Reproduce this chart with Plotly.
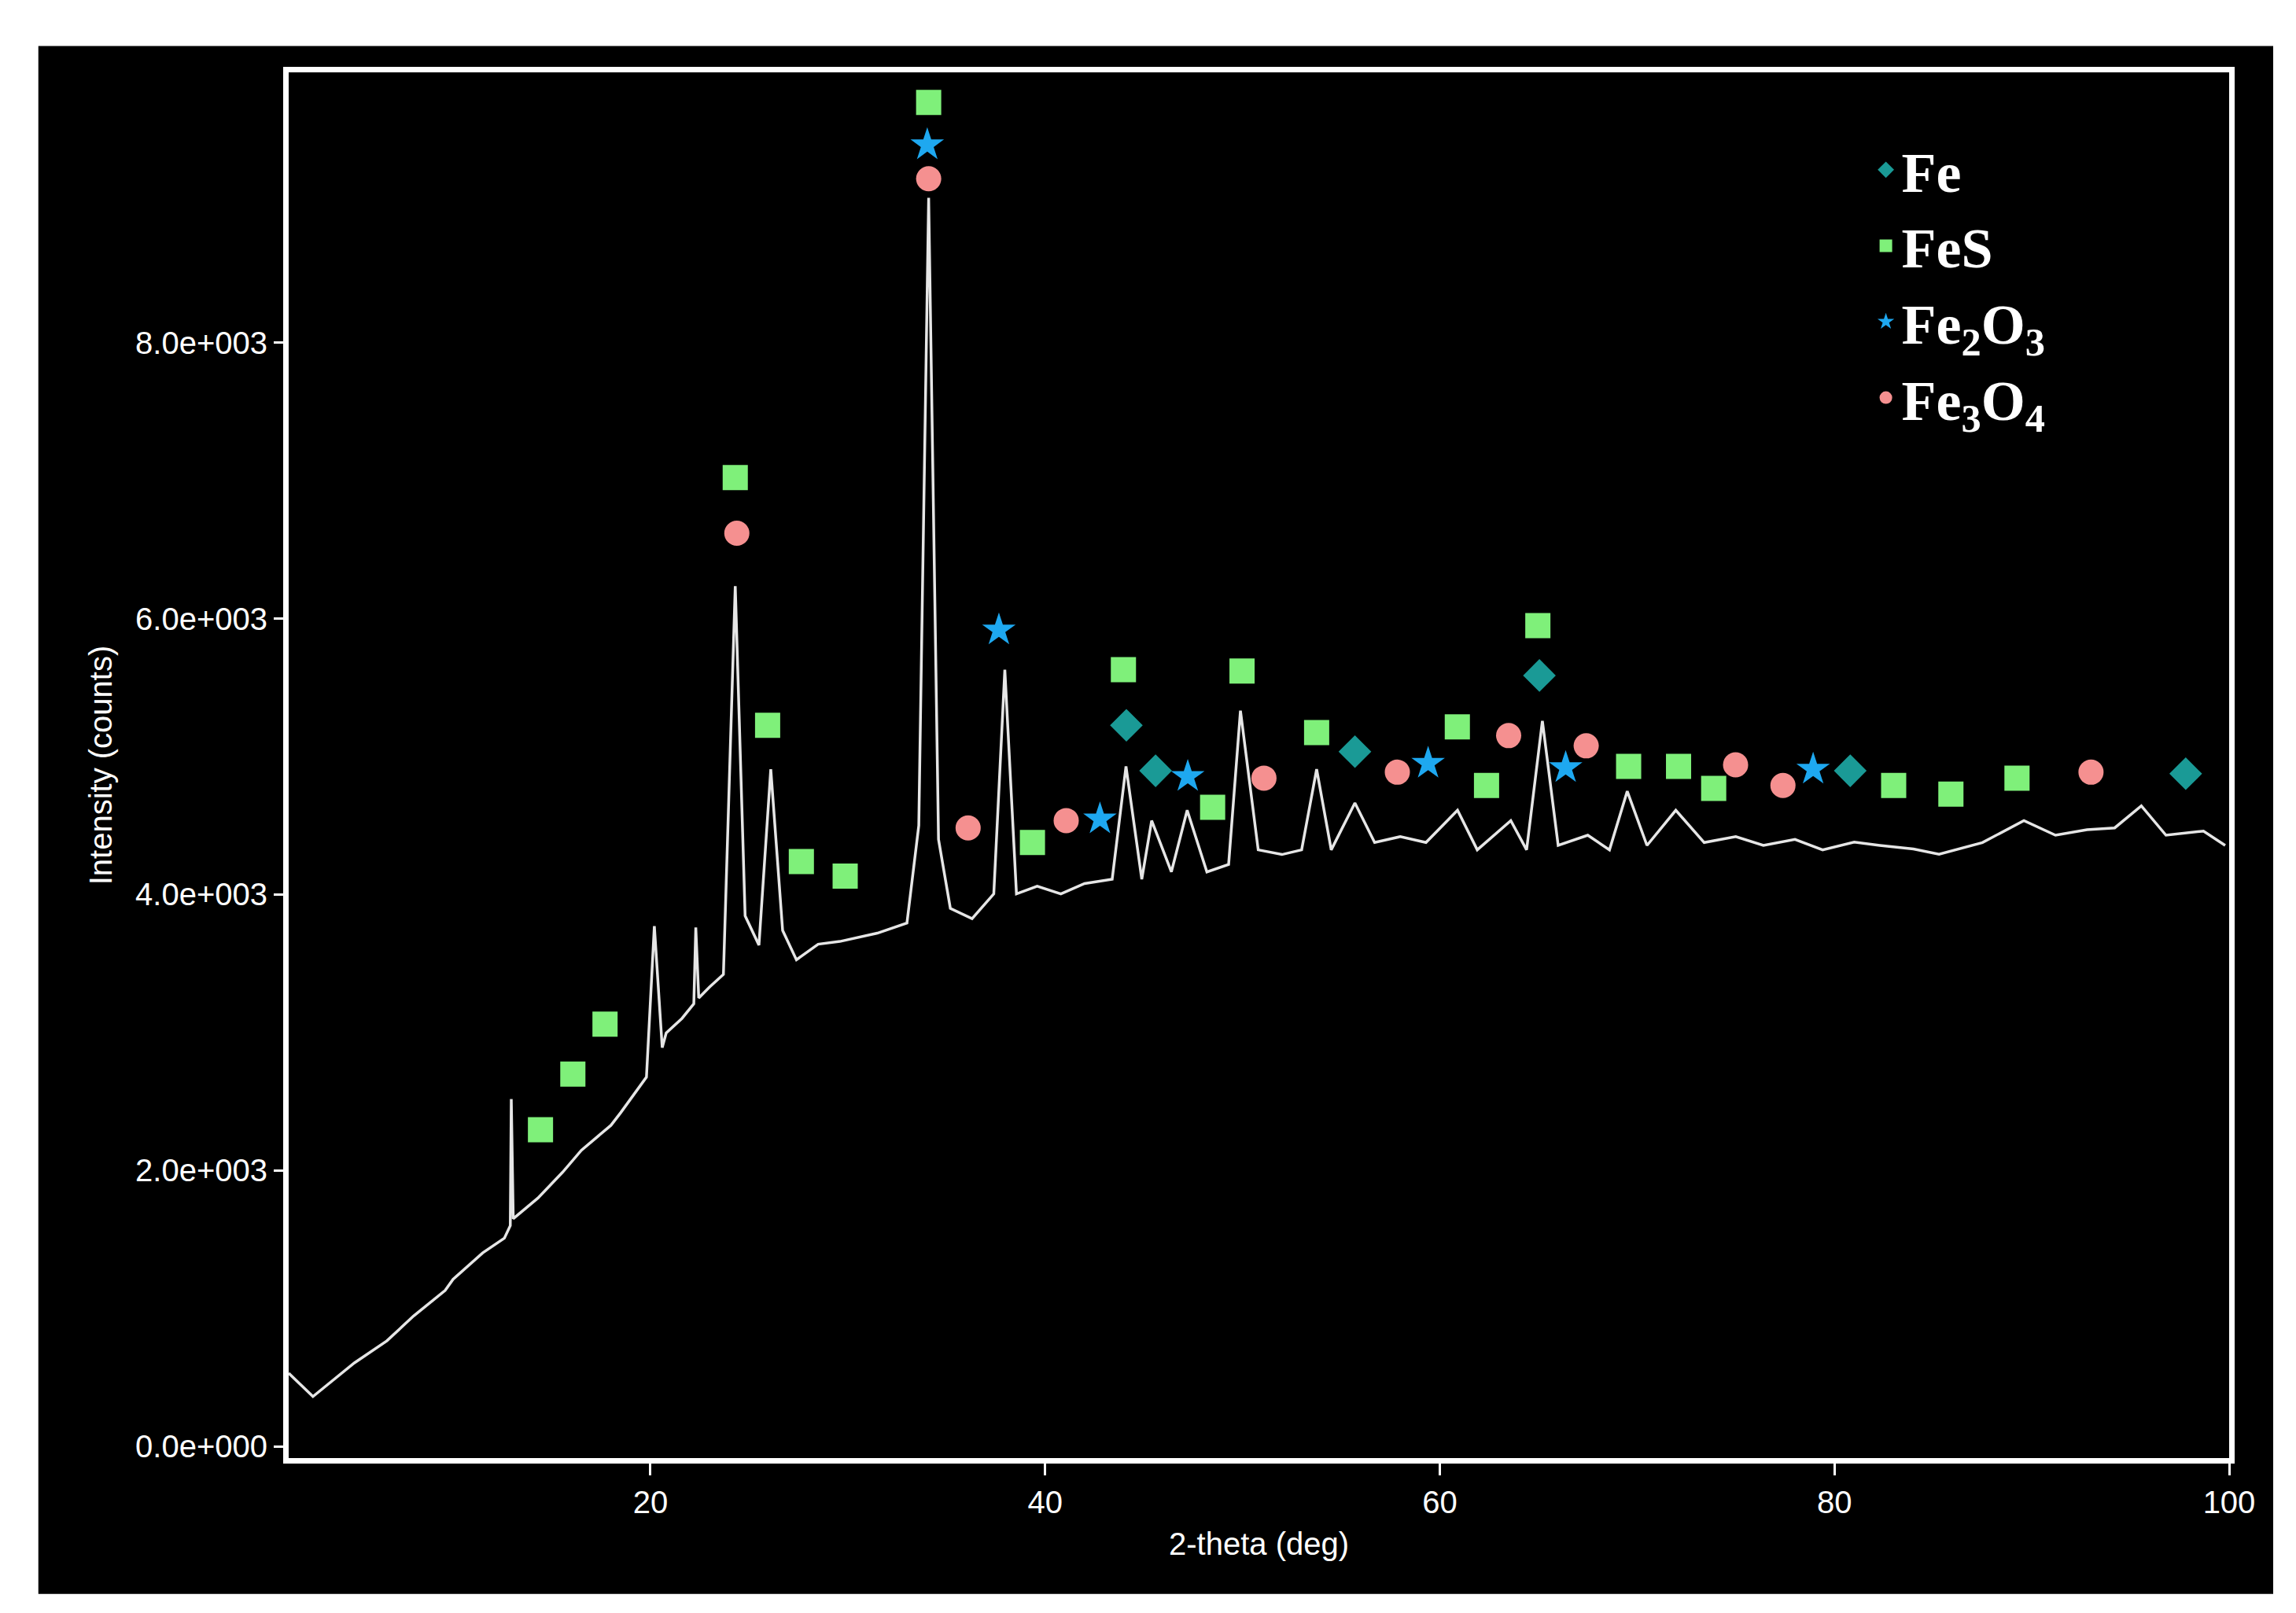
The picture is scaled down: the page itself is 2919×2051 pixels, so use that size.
import plotly.graph_objects as go

# diffraction trace (2-theta, counts)
theta = [1.67, 2.9, 5.0, 6.65, 8.0, 9.6, 10.0, 11.5, 12.6, 12.9, 12.95, 13.05, 14.3, 15.55,
         16.5, 18.0, 18.5, 19.0, 19.8, 20.2, 20.6, 20.8, 21.6, 22.2, 22.3, 22.45, 23.0,
         23.7, 24.3, 24.8, 25.5, 26.1, 26.7, 27.4, 28.5, 29.6, 30.4, 31.5, 33.0, 33.6,
         34.1, 34.6, 35.2, 36.3, 37.4, 37.96, 38.55, 39.6, 40.8, 42.0, 43.4, 44.1, 44.9,
         45.4, 46.4, 47.2, 48.2, 49.3, 49.9, 50.8, 52.0, 53.0, 53.76, 54.5, 55.7, 56.7,
         58.0, 59.3, 60.9, 61.9, 63.6, 64.4, 65.2, 66.0, 67.5, 68.6, 69.5, 70.5, 71.96,
         73.4, 75.0, 76.4, 78.0, 79.4, 81.0, 82.3, 84.0, 85.3, 87.5, 89.6, 91.2, 92.8,
         94.2, 95.55, 96.8, 98.7, 99.8]
counts = [531, 361, 605, 765, 945, 1130, 1211, 1402, 1509, 1600, 2518, 1650, 1800, 1987,
          2146, 2327, 2420, 2518, 2677, 3771, 2890, 2996, 3102, 3208, 3761, 3250, 3330,
          3421, 6236, 3846, 3633, 4908, 3740, 3527, 3640, 3660, 3686, 3720, 3793, 4500,
          9051, 4400, 3899, 3825, 4005, 5630, 4005, 4060, 4005, 4080, 4111, 4929, 4111,
          4536, 4164, 4611, 4164, 4218, 5333, 4324, 4290, 4324, 4908, 4324, 4664, 4377,
          4420, 4377, 4611, 4324, 4536, 4324, 5259, 4356, 4430, 4324, 4749, 4356, 4611,
          4377, 4420, 4356, 4400, 4324, 4380, 4356, 4330, 4292, 4377, 4536, 4430, 4470,
          4483, 4643, 4430, 4460, 4356]

fe_x = [44.12, 45.6, 55.7, 65.05, 80.8, 97.8]
fe_y = [5227, 4897, 5036, 5588, 4897, 4876]

fes_x = [14.43, 16.07, 17.7, 24.3, 25.94, 27.65, 29.87, 34.1, 39.36, 43.97, 48.49, 49.98,
         53.76, 60.89, 62.37, 64.97, 69.57, 72.1, 73.88, 83.0, 85.9, 89.25]
fes_y = [2295, 2698, 3060, 7022, 5227, 4239, 4133, 9742, 4377, 5630, 4632, 5620,
         5174, 5216, 4791, 5949, 4929, 4929, 4770, 4791, 4728, 4844]

fe2o3_x = [34.03, 37.66, 42.78, 47.23, 59.41, 66.38, 78.92]
fe2o3_y = [9434, 5917, 4547, 4855, 4951, 4919, 4908]

fe3o4_x = [24.38, 34.1, 36.1, 41.07, 51.09, 57.85, 63.49, 67.42, 74.99, 77.39, 93.0]
fe3o4_y = [6619, 9189, 4483, 4536, 4844, 4887, 5152, 5078, 4940, 4791, 4887]

y_ticks = [0, 2000, 4000, 6000, 8000]
y_labels = ["0.0e+000", "2.0e+003", "4.0e+003", "6.0e+003", "8.0e+003"]

fig = go.Figure()
fig.add_trace(go.Scatter(x=theta, y=counts, mode="lines", showlegend=False,
                         line=dict(color="#e6e6e6", width=3.5)))

markers = [
    ("<b>Fe</b>", fe_x, fe_y, "diamond", "#1a9a96"),
    ("<b>FeS</b>", fes_x, fes_y, "square", "#7ff07a"),
    ("<b>Fe<sub>2</sub>O<sub>3</sub></b>", fe2o3_x, fe2o3_y, "star", "#1ea8f0"),
    ("<b>Fe<sub>3</sub>O<sub>4</sub></b>", fe3o4_x, fe3o4_y, "circle", "#f59090"),
]
for name, xs, ys, sym, col in markers:
    fig.add_trace(go.Scatter(x=xs, y=ys, mode="markers", name=name,
                             marker=dict(symbol=sym, color=col, size=32, line=dict(width=0))))

axis_font = dict(family="Liberation Sans", size=40, color="white")
fig.update_xaxes(range=[1.67, 100], tickvals=[20, 40, 60, 80, 100], showgrid=False,
                 zeroline=False, showline=True, linecolor="white", linewidth=7, mirror=True,
                 ticks="outside", tickcolor="white", ticklen=15, tickwidth=3,
                 tickfont=axis_font, title=dict(text="2-theta (deg)", font=axis_font, standoff=20))
fig.update_yaxes(range=[-85, 9960], tickvals=y_ticks, ticktext=y_labels, showgrid=False,
                 zeroline=False, showline=True, linecolor="white", linewidth=7, mirror=True,
                 ticks="outside", tickcolor="white", ticklen=12, tickwidth=3,
                 tickfont=axis_font, title=dict(text="Intensity (counts)", font=axis_font, standoff=20))

fig.update_layout(
    width=2919, height=2051,
    margin=dict(l=359, r=93, t=84, b=205),
    paper_bgcolor="white", plot_bgcolor="black",
    legend=dict(x=0.815, y=0.96, xanchor="left", yanchor="top", bgcolor="rgba(0,0,0,0)",
                font=dict(family="Liberation Serif", size=72, color="white"),
                itemsizing="trace", tracegroupgap=14),
    shapes=[dict(type="rect", xref="paper", yref="paper", x0=-0.129, x1=1.0227,
                 y0=-0.098, y1=1.019, fillcolor="black", line=dict(width=0), layer="below")],
)

fig.write_html("out.html")
